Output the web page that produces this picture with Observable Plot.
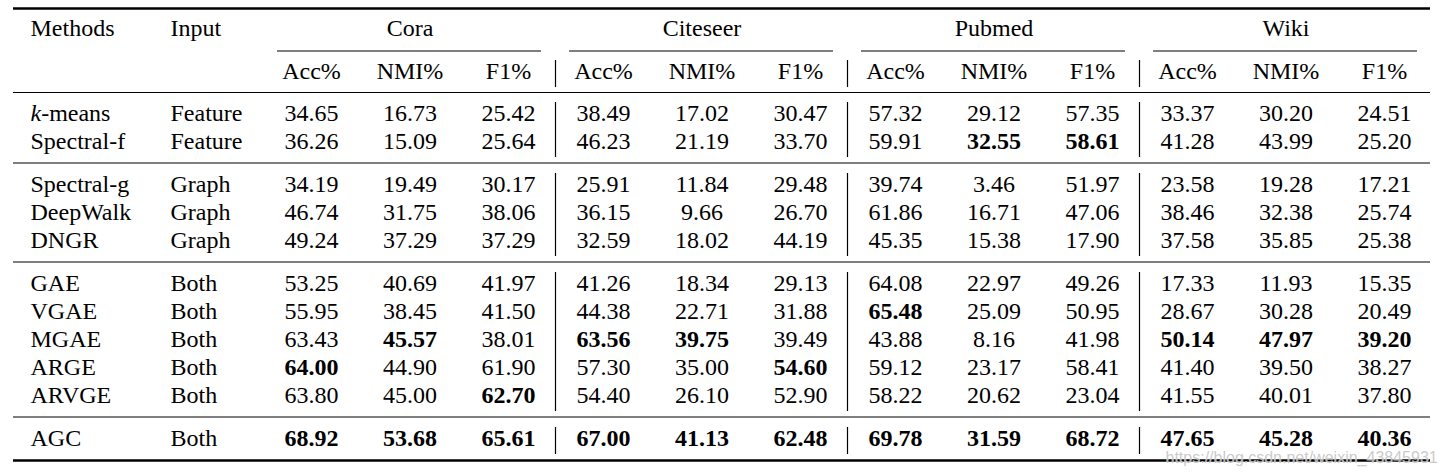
<!DOCTYPE html>
<html><head><meta charset="utf-8">
<script src="https://cdn.jsdelivr.net/npm/d3@7"></script>
<script src="https://cdn.jsdelivr.net/npm/@observablehq/plot@0.6"></script>
<style>body{margin:0;background:#fff} svg{display:block;background:#fff}</style>
</head><body><div id="chart"></div>
<script>
// ---------- data ----------
const headers = ["Methods", "Input"];
const datasets = ["Cora", "Citeseer", "Pubmed", "Wiki"];
const metrics = ["Acc%", "NMI%", "F1%"];
const methods = ["k-means", "Spectral-f", "Spectral-g", "DeepWalk", "DNGR", "GAE", "VGAE", "MGAE", "ARGE", "ARVGE", "AGC"];
const inputs = ["Feature", "Feature", "Graph", "Graph", "Graph", "Both", "Both", "Both", "Both", "Both", "Both"];
const scores = [
  [34.65, 16.73, 25.42, 38.49, 17.02, 30.47, 57.32, 29.12, 57.35, 33.37, 30.20, 24.51],
  [36.26, 15.09, 25.64, 46.23, 21.19, 33.70, 59.91, 32.55, 58.61, 41.28, 43.99, 25.20],
  [34.19, 19.49, 30.17, 25.91, 11.84, 29.48, 39.74, 3.46, 51.97, 23.58, 19.28, 17.21],
  [46.74, 31.75, 38.06, 36.15, 9.66, 26.70, 61.86, 16.71, 47.06, 38.46, 32.38, 25.74],
  [49.24, 37.29, 37.29, 32.59, 18.02, 44.19, 45.35, 15.38, 17.90, 37.58, 35.85, 25.38],
  [53.25, 40.69, 41.97, 41.26, 18.34, 29.13, 64.08, 22.97, 49.26, 17.33, 11.93, 15.35],
  [55.95, 38.45, 41.50, 44.38, 22.71, 31.88, 65.48, 25.09, 50.95, 28.67, 30.28, 20.49],
  [63.43, 45.57, 38.01, 63.56, 39.75, 39.49, 43.88, 8.16, 41.98, 50.14, 47.97, 39.20],
  [64.00, 44.90, 61.90, 57.30, 35.00, 54.60, 59.12, 23.17, 58.41, 41.40, 39.50, 38.27],
  [63.80, 45.00, 62.70, 54.40, 26.10, 52.90, 58.22, 20.62, 23.04, 41.55, 40.01, 37.80],
  [68.92, 53.68, 65.61, 67.00, 41.13, 62.48, 69.78, 31.59, 68.72, 47.65, 45.28, 40.36]
];
const boldFlags = [
  [0,0,0, 0,0,0, 0,0,0, 0,0,0],
  [0,0,0, 0,0,0, 0,1,1, 0,0,0],
  [0,0,0, 0,0,0, 0,0,0, 0,0,0],
  [0,0,0, 0,0,0, 0,0,0, 0,0,0],
  [0,0,0, 0,0,0, 0,0,0, 0,0,0],
  [0,0,0, 0,0,0, 0,0,0, 0,0,0],
  [0,0,0, 0,0,0, 1,0,0, 0,0,0],
  [0,1,0, 1,1,0, 0,0,0, 1,1,1],
  [1,0,0, 0,0,1, 0,0,0, 0,0,0],
  [0,0,1, 0,0,0, 0,0,0, 0,0,0],
  [1,1,1, 1,1,1, 1,1,1, 1,1,1]
];
const blockSizes = [2, 3, 5, 1];
const watermark = "https://blog.csdn.net/weixin_43845931";

// ---------- layout ----------
const W = 1444, H = 476;
const LY = {top: 8, head1: 28, cmid: 50.5, head2: 71, first: 113, step: 28, gap: 15, bottom: 460};
const LX = {left: 13, right: 1430, methods: 30, input: 170, group0: 263, groupW: 292, colOff: 48, colStep: 98.5, cmidPad: 14};
const FONT = "'Liberation Serif', 'Times New Roman', serif";
const FS = 24;

const colX = (j) => LX.group0 + LX.groupW * Math.floor(j / 3) + LX.colOff + LX.colStep * (j % 3);
const groupCenter = (g) => colX(g * 3 + 1);
const groupSep = (g) => LX.group0 + LX.groupW * g; // g = 1..3

// row y positions
const blockOf = [];
blockSizes.forEach((n, b) => { for (let i = 0; i < n; i++) blockOf.push(b); });
const rowY = (i) => LY.first + i * LY.step + blockOf[i] * LY.gap;

// blocks: first/last row indexes
const blocks = [];
{ let s = 0; blockSizes.forEach(n => { blocks.push([s, s + n - 1]); s += n; }); }

// cells
const cells = [];
methods.forEach((m, i) => {
  cells.push({x: LX.methods, y: rowY(i), t: m, anchor: "start", bold: false});
  cells.push({x: LX.input, y: rowY(i), t: inputs[i], anchor: "start", bold: false});
  scores[i].forEach((v, j) => cells.push({x: colX(j), y: rowY(i), t: v.toFixed(2), anchor: "middle", bold: !!boldFlags[i][j]}));
});
const headCells = [
  {x: LX.methods, y: LY.head1, t: headers[0], anchor: "start"},
  {x: LX.input, y: LY.head1, t: headers[1], anchor: "start"},
  ...datasets.map((d, g) => ({x: groupCenter(g), y: LY.head1, t: d, anchor: "middle"})),
  ...datasets.flatMap((d, g) => metrics.map((m, k) => ({x: colX(g * 3 + k), y: LY.head2, t: m, anchor: "middle"})))
];

// horizontal rules
const thinRules = [ (LY.head2 + LY.first) / 2, ...blocks.slice(1).map(([s]) => (rowY(s - 1) + rowY(s)) / 2) ];
const thickRules = [LY.top, LY.bottom];
const cmid = datasets.map((d, g) => ({
  x1: LX.group0 + LX.groupW * g + LX.cmidPad,
  x2: LX.group0 + LX.groupW * (g + 1) - LX.cmidPad
}));
// vertical segments
const vsegs = [];
for (let g = 1; g < datasets.length; g++) {
  vsegs.push({x: groupSep(g), y1: LY.head2 - 11, y2: LY.head2 + 16});
  blocks.forEach(([s, e]) => vsegs.push({x: groupSep(g), y1: rowY(s) - 11, y2: rowY(e) + 16}));
}

const textOpts = (extra) => ({
  x: "x", y: "y", text: "t", textAnchor: "start",
  fontFamily: FONT, fontSize: FS, fill: "#000", ...extra
});

const plot = Plot.plot({
  width: W, height: H,
  margin: 0,
  x: {type: "identity"}, y: {type: "identity"},
  axis: null,
  style: {background: "#fff"},
  marks: [
    Plot.ruleY(thickRules, {y: d => d, x1: LX.left, x2: LX.right, stroke: "#000", strokeWidth: 2.6}),
    Plot.ruleY(thinRules, {y: d => d, x1: LX.left, x2: LX.right, stroke: "#000", strokeWidth: 1.2}),
    Plot.ruleY(cmid, {y: LY.cmid, x1: "x1", x2: "x2", stroke: "#000", strokeWidth: 1.2}),
    Plot.ruleX(vsegs, {x: "x", y1: "y1", y2: "y2", stroke: "#000", strokeWidth: 1.2}),
    Plot.text(headCells.filter(d => d.anchor === "start"), textOpts({textAnchor: "start"})),
    Plot.text(headCells.filter(d => d.anchor === "middle"), textOpts({textAnchor: "middle"})),
    Plot.text(cells.filter(d => d.anchor === "start"), textOpts({textAnchor: "start"})),
    Plot.text(cells.filter(d => d.anchor === "middle" && !d.bold), textOpts({textAnchor: "middle"})),
    Plot.text(cells.filter(d => d.anchor === "middle" && d.bold), textOpts({textAnchor: "middle", fontWeight: "bold"})),
    Plot.text([watermark], {x: 1165, y: 457, text: d => d, textAnchor: "start",
      fontFamily: "'Liberation Sans', Arial, sans-serif", fontSize: 16,
      fill: "#c4c4c4", fillOpacity: 0.9, stroke: "#fff", strokeWidth: 0.6, strokeOpacity: 0.6})
  ]
});

// italic "k" in k-means
d3.select(plot).selectAll("text").each(function() {
  if (this.textContent === "k-means") {
    this.textContent = "";
    d3.select(this).append("tspan").attr("font-style", "italic").text("k");
    d3.select(this).append("tspan").text("-means");
  }
});
document.getElementById("chart").appendChild(plot);
</script>
</body></html>
